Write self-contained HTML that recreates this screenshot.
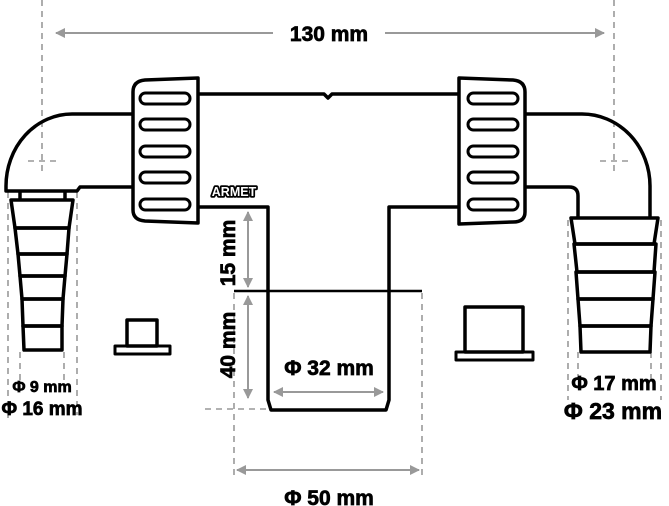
<!DOCTYPE html>
<html><head><meta charset="utf-8"><style>
html,body{margin:0;padding:0;background:#fff;}
svg{display:block;}
text{font-family:"Liberation Sans",sans-serif;font-weight:bold;fill:#000;stroke:#000;stroke-width:0.7;}
</style></head><body>
<svg width="669" height="506" viewBox="0 0 669 506" xmlns="http://www.w3.org/2000/svg">
<defs>
<marker id="ah" viewBox="0 0 10 10" refX="9" refY="5" markerWidth="5" markerHeight="5" orient="auto-start-reverse"><path d="M0 0L10 5L0 10z" fill="#999"/></marker>
</defs>
<g stroke="#999" stroke-width="1.6" stroke-dasharray="6,5" fill="none">
<line x1="42" y1="0" x2="42" y2="175"/>
<line x1="614" y1="0" x2="614" y2="175"/>
<line x1="28" y1="161" x2="57" y2="161"/>
<line x1="600" y1="161" x2="629" y2="161"/>
<line x1="8" y1="192" x2="8" y2="420"/>
<line x1="77" y1="192" x2="77" y2="415"/>
<line x1="20" y1="352" x2="20" y2="395"/>
<line x1="64" y1="352" x2="64" y2="385"/>
<line x1="568" y1="220" x2="568" y2="400"/>
<line x1="661" y1="220" x2="661" y2="400"/>
<line x1="578" y1="352" x2="578" y2="380"/>
<line x1="651" y1="352" x2="651" y2="380"/>
<line x1="205" y1="409" x2="268" y2="409"/>
<line x1="234" y1="293" x2="234" y2="478"/>
<line x1="422" y1="293" x2="422" y2="478"/>
</g>
<g stroke="#999" stroke-width="2" fill="none">
<line x1="56" y1="33" x2="273" y2="33" marker-start="url(#ah)"/>
<line x1="385" y1="33" x2="604" y2="33" marker-end="url(#ah)"/>
<line x1="248" y1="212" x2="248" y2="287" marker-start="url(#ah)" marker-end="url(#ah)"/>
<line x1="248" y1="296" x2="248" y2="398" marker-start="url(#ah)" marker-end="url(#ah)"/>
<line x1="274" y1="392" x2="383" y2="392" marker-start="url(#ah)" marker-end="url(#ah)"/>
<line x1="237" y1="470" x2="419" y2="470" marker-start="url(#ah)" marker-end="url(#ah)"/>
</g>
<g stroke="#000" stroke-width="3.5" fill="none" stroke-linejoin="round">
<path d="M198 94 L324 94 L328 98 L332 94 L459 94"/>
<path d="M198 207 L268 207 L268 400 L271 410 L386 410 L389 400 L389 207 L459 207"/>
<line x1="234" y1="291" x2="422" y2="291" stroke-width="2.5"/>
<path d="M133 114 L72 114 A66 72 0 0 0 6 186 L6 191 L77 191 L80 187 L133 187"/>
<path d="M525 114 L582 114 A68 72 0 0 1 650 186 L650 218"/>
<path d="M525 187 L569 187 Q578 187 578 196 L578 218"/>
<path d="M133 92 Q133 81 145 80 L198 78 L198 223 L145 221 Q133 220 133 210 Z" fill="#fff"/>
<path d="M459 78 L513 80 Q525 81 525 92 L525 212 Q525 222 513 222 L459 224 Z" fill="#fff"/>
<g stroke-width="3">
<rect x="140" y="93" width="50" height="11" rx="5.5"/>
<rect x="140" y="119" width="50" height="11" rx="5.5"/>
<rect x="140" y="146" width="50" height="11" rx="5.5"/>
<rect x="140" y="172" width="50" height="11" rx="5.5"/>
<rect x="140" y="199" width="50" height="11" rx="5.5"/>
<rect x="468" y="93" width="50" height="11" rx="5.5"/>
<rect x="468" y="119" width="50" height="11" rx="5.5"/>
<rect x="468" y="146" width="50" height="11" rx="5.5"/>
<rect x="468" y="172" width="50" height="11" rx="5.5"/>
<rect x="468" y="199" width="50" height="11" rx="5.5"/>
</g>
<path d="M20 191 L20 200 M65 191 L65 200"/>
<path d="M11 200 L73 200 L69 228 L15 228 Z"/>
<path d="M15 228 L69 228 L67 254 L18 254 Z"/>
<path d="M18 254 L67 254 L65 276 L20 276 Z"/>
<path d="M20 276 L65 276 L63 299 L22 299 Z"/>
<path d="M22 299 L63 299 L62 326 L23 326 Z"/>
<path d="M23 326 L62 326 L62 350 L24 350 Z"/>
<path d="M571 218 L658 218 L654 244 L575 244 Z"/>
<path d="M574 244 L656 244 L654 272 L577 272 Z"/>
<path d="M576 272 L655 272 L653 299 L578 299 Z"/>
<path d="M578 299 L653 299 L651 326 L580 326 Z"/>
<path d="M580 326 L651 326 L650 352 L581 352 Z"/>
<rect x="127" y="320" width="30" height="26"/>
<rect x="115" y="346" width="55" height="8" stroke-width="3"/>
<rect x="465" y="307" width="58" height="45"/>
<rect x="456" y="352" width="77" height="8" stroke-width="3"/>
</g>
<text x="234" y="196" font-size="12.5" text-anchor="middle" style="fill:#fff;stroke:#000;stroke-width:3.5px;paint-order:stroke;stroke-linejoin:round">ARMET</text>
<text x="329" y="41" font-size="21" text-anchor="middle">130 mm</text>
<text transform="translate(235,253) rotate(-90)" font-size="21" text-anchor="middle">15 mm</text>
<text transform="translate(235,345) rotate(-90)" font-size="21" text-anchor="middle">40 mm</text>
<text x="329" y="375" font-size="21" text-anchor="middle">Φ  32 mm</text>
<text x="329" y="505" font-size="21" text-anchor="middle">Φ  50 mm</text>
<text x="42" y="392" font-size="16" text-anchor="middle">Φ 9 mm</text>
<text x="42" y="415" font-size="19" text-anchor="middle">Φ 16 mm</text>
<text x="614" y="390" font-size="20" text-anchor="middle">Φ 17 mm</text>
<text x="613" y="419" font-size="23" text-anchor="middle">Φ 23 mm</text>
</svg>
</body></html>
